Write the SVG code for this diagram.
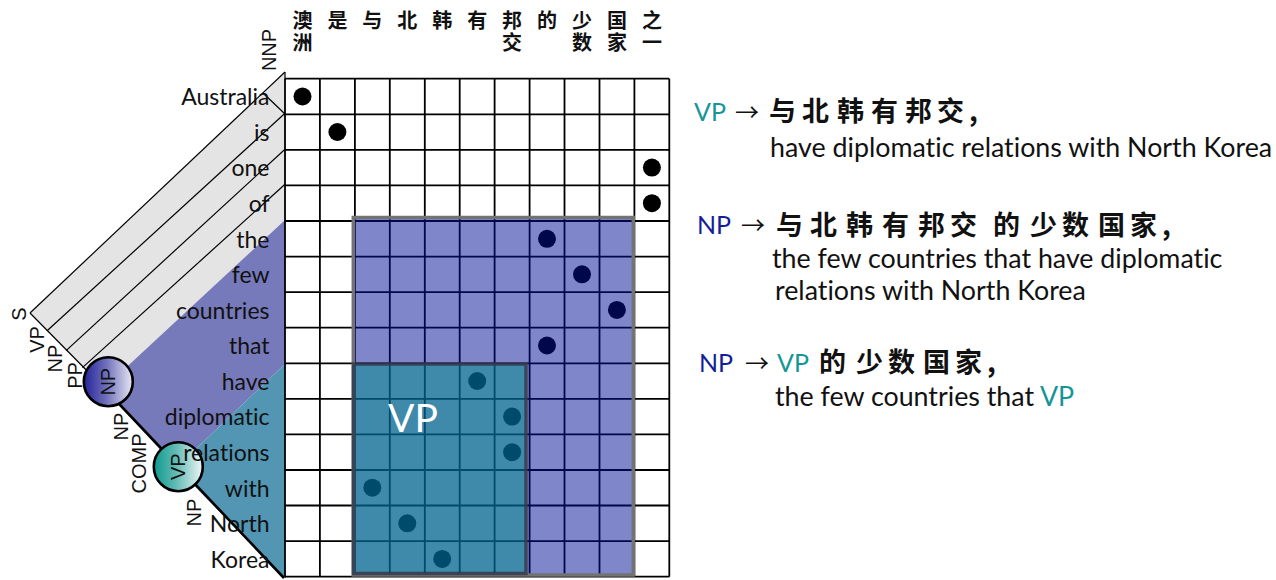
<svg xmlns="http://www.w3.org/2000/svg" width="1276" height="580" viewBox="0 0 1276 580">
<defs>
<style>
.w{font-family:Lato,"Open Sans",sans-serif;font-size:23px;text-anchor:end;fill:#111;font-variant-ligatures:none}
.lab{font-family:"Liberation Sans",Arial,sans-serif;font-size:20px;text-anchor:middle;dominant-baseline:central;fill:#111}
.hd{font-family:"Noto Sans CJK SC",sans-serif;font-size:20px;font-weight:700;fill:#111;writing-mode:vertical-rl;text-orientation:upright;letter-spacing:2px}
.zh{font-family:"Noto Sans CJK SC",sans-serif;font-size:27px;font-weight:700;fill:#111;letter-spacing:5px}
.en{font-family:Lato,"Open Sans",sans-serif;font-size:26.8px;fill:#111;font-variant-ligatures:none}
.sym{font-family:Lato,"Open Sans",sans-serif;font-size:25px}
.arr{font-family:"Noto Sans CJK SC",sans-serif;font-size:24px;fill:#111}
.vp{fill:#149696}
.np{fill:#141e96}
.gl{stroke:#000;stroke-width:1.8;fill:none}
.tl{stroke:#000;stroke-width:1.2;fill:none}
.dot{fill:#000}
</style>
<linearGradient id="gNP" x1="0" x2="1" y1="0" y2="0">
<stop offset="0" stop-color="#23239a"/>
<stop offset="0.45" stop-color="#6e6eba"/>
<stop offset="1" stop-color="#e8e8f3"/>
</linearGradient>
<linearGradient id="gVP" x1="0" x2="1" y1="0" y2="0">
<stop offset="0" stop-color="#0e9a90"/>
<stop offset="0.45" stop-color="#62bab4"/>
<stop offset="1" stop-color="#eef6f6"/>
</linearGradient>
</defs>
<rect width="1276" height="580" fill="#fff"/>

<g id="tree">
<polygon points="285,72 30,313 104,388 285,220" fill="#e4e4e4"/>
<polygon points="285,220 104,388 176.4,467.4 285,364" fill="#767aba"/>
<polygon points="285,364 176.4,467.4 284,578 286,578" fill="#5296b4"/>
<line class="tl" x1="285" y1="72" x2="30" y2="313"/>
<line class="tl" x1="30" y1="313" x2="104" y2="388"/>
<line class="tl" x1="285" y1="113.3" x2="47.1" y2="330.8"/>
<line class="tl" x1="285" y1="149.3" x2="66.1" y2="350.6"/>
<line class="tl" x1="285" y1="184.3" x2="82.4" y2="367.6"/>
<line class="tl" x1="285" y1="114" x2="263" y2="93"/>
<line class="tl" x1="285" y1="72" x2="285" y2="80"/>
<line x1="104" y1="388" x2="284" y2="578" stroke="#000" stroke-width="2.6"/>
</g>

<g id="node-np">
<circle cx="108.3" cy="381.7" r="24.5" fill="url(#gNP)" stroke="#000" stroke-width="2.6"/>
<text class="lab" transform="translate(108.3,381.7) rotate(-90)">NP</text>
</g>
<g id="node-vp">
<circle cx="178.3" cy="466.7" r="24.5" fill="url(#gVP)" stroke="#000" stroke-width="2.6"/>
<text class="lab" transform="translate(178.3,466.7) rotate(-90)">VP</text>
</g>

<g id="tree-labels">
<text class="lab" transform="translate(268.5,50) rotate(-90)">NNP</text>
<text class="lab" transform="translate(19,314) rotate(-90)">S</text>
<text class="lab" transform="translate(36.5,339.5) rotate(-90)">VP</text>
<text class="lab" transform="translate(55,358.5) rotate(-90)">NP</text>
<text class="lab" transform="translate(75,375.5) rotate(-90)">PP</text>
<text class="lab" transform="translate(120.5,426.5) rotate(-90)">NP</text>
<text class="lab" transform="translate(138.5,463.5) rotate(-90)">COMP</text>
<text class="lab" transform="translate(193.5,512.5) rotate(-90)">NP</text>
</g>

<g id="words">
<text class="w" x="269.5" y="105.2">Australia</text>
<text class="w" x="269.5" y="140.8">is</text>
<text class="w" x="269.5" y="176.3">one</text>
<text class="w" x="269.5" y="211.9">of</text>
<text class="w" x="269.5" y="247.5">the</text>
<text class="w" x="269.5" y="283.1">few</text>
<text class="w" x="269.5" y="318.6">countries</text>
<text class="w" x="269.5" y="354.2">that</text>
<text class="w" x="269.5" y="389.8">have</text>
<text class="w" x="269.5" y="425.3">diplomatic</text>
<text class="w" x="269.5" y="460.9">relations</text>
<text class="w" x="269.5" y="496.5">with</text>
<text class="w" x="269.5" y="532">North</text>
<text class="w" x="269.5" y="567.6">Korea</text>
</g>

<g id="headers">
<text class="hd" x="302.5" y="10">澳洲</text>
<text class="hd" x="337.4" y="10">是</text>
<text class="hd" x="372.3" y="10">与</text>
<text class="hd" x="407.3" y="10">北</text>
<text class="hd" x="442.2" y="10">韩</text>
<text class="hd" x="477.2" y="10">有</text>
<text class="hd" x="512.1" y="10">邦交</text>
<text class="hd" x="547" y="10">的</text>
<text class="hd" x="582" y="10">少数</text>
<text class="hd" x="616.9" y="10">国家</text>
<text class="hd" x="651.9" y="10">之一</text>
</g>

<g id="grid">
<rect x="285" y="78.7" width="384.3" height="498" fill="#fff"/>
<g id="dots">
<circle class="dot" cx="302.5" cy="96.5" r="9"/>
<circle class="dot" cx="337.4" cy="132" r="9"/>
<circle class="dot" cx="651.9" cy="167.6" r="9"/>
<circle class="dot" cx="651.9" cy="203.2" r="9"/>
<circle class="dot" cx="547" cy="238.8" r="9"/>
<circle class="dot" cx="582" cy="274.3" r="9"/>
<circle class="dot" cx="616.9" cy="309.9" r="9"/>
<circle class="dot" cx="547" cy="345.5" r="9"/>
<circle class="dot" cx="477.2" cy="381" r="9"/>
<circle class="dot" cx="512.1" cy="416.6" r="9"/>
<circle class="dot" cx="512.1" cy="452.2" r="9"/>
<circle class="dot" cx="372.3" cy="487.7" r="9"/>
<circle class="dot" cx="407.3" cy="523.3" r="9"/>
<circle class="dot" cx="442.2" cy="558.9" r="9"/>
</g>
<path class="gl" d="M285,78.7V576.7M319.9,78.7V576.7M354.9,78.7V576.7M389.8,78.7V576.7M424.8,78.7V576.7M459.7,78.7V576.7M494.6,78.7V576.7M529.6,78.7V576.7M564.5,78.7V576.7M599.5,78.7V576.7M634.4,78.7V576.7M669.3,78.7V576.7"/>
<path class="gl" d="M285,78.7H669.3M285,114.3H669.3M285,149.8H669.3M285,185.4H669.3M285,221H669.3M285,256.6H669.3M285,292.1H669.3M285,327.7H669.3M285,363.3H669.3M285,398.8H669.3M285,434.4H669.3M285,470H669.3M285,505.5H669.3M285,541.1H669.3M285,576.7H669.3"/>
</g>

<g id="box-np">
<rect x="353.3" y="217.5" width="280" height="357.5" fill="rgb(0,16,150)" fill-opacity="0.5" stroke="#737373" stroke-width="3.5"/>
</g>
<g id="box-vp">
<rect x="353.5" y="364" width="172.5" height="209.5" fill="rgb(0,140,140)" fill-opacity="0.5" stroke="#363a4c" stroke-opacity="0.85" stroke-width="3.5"/>
<text x="388" y="432" font-family="Lato,'Open Sans',sans-serif" font-size="39" fill="#fff">VP</text>
</g>

<g id="rules">
<text class="sym vp" x="694" y="121">VP</text>
<text class="arr" x="735" y="121">→</text>
<text class="zh" y="121"><tspan x="769">与</tspan><tspan x="802">北</tspan><tspan x="837">韩</tspan><tspan x="871">有</tspan><tspan x="905">邦交,</tspan></text>
<text class="en" x="770" y="156.5">have diplomatic relations with North Korea</text>

<text class="sym np" x="697" y="234">NP</text>
<text class="arr" x="741" y="234">→</text>
<text class="zh" y="234.5"><tspan x="776">与</tspan><tspan x="810">北</tspan><tspan x="846">韩</tspan><tspan x="882">有</tspan><tspan x="918">邦交</tspan><tspan x="993">的</tspan><tspan x="1030">少数</tspan><tspan x="1098">国家,</tspan></text>
<text class="en" x="772" y="268.3">the few countries that have diplomatic</text>
<text class="en" x="775" y="299.5">relations with North Korea</text>

<text class="sym np" x="699" y="372">NP</text>
<text class="arr" x="745" y="372">→</text>
<text class="sym vp" x="777" y="372">VP</text>
<text class="zh" y="372"><tspan x="819">的</tspan><tspan x="856">少数</tspan><tspan x="923">国家,</tspan></text>
<text class="en" x="775" y="406">the few countries that <tspan class="vp">VP</tspan></text>
</g>
</svg>
